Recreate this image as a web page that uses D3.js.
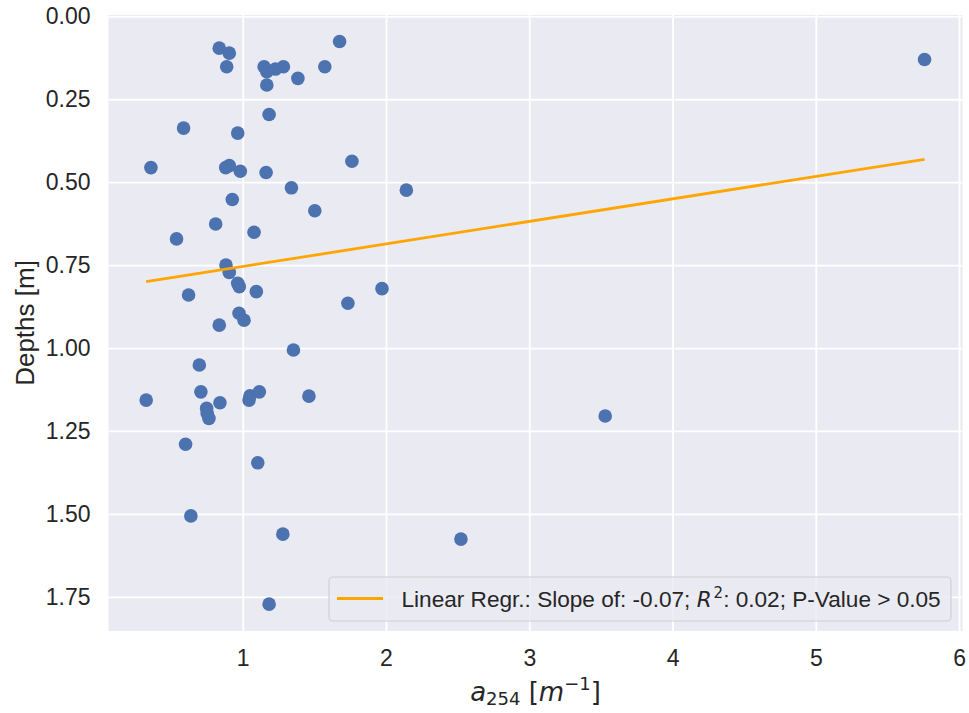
<!DOCTYPE html>
<html>
<head>
<meta charset="utf-8">
<script src="https://cdn.jsdelivr.net/npm/d3@7/dist/d3.min.js"></script>
<style>
  body { margin: 0; background: #fff; }
  svg { display: block; font-family: "Liberation Sans", Arial, sans-serif; }
</style>
</head>
<body>
<svg width="969" height="713"></svg>
<script>
// a254 absorbance [m^-1] per sample
const a254 = [
  0.836, 0.906, 0.888, 1.676, 1.149, 1.168, 1.228, 1.284, 1.168, 1.385,
  1.573, 5.759, 1.184, 0.587, 0.965, 0.359, 0.881, 0.906, 0.983, 1.163,
  1.762, 1.340, 2.142, 0.927, 1.503, 0.811, 1.079, 0.538, 0.883, 0.906,
  0.965, 0.976, 1.095, 0.622, 1.972, 1.734, 0.974, 1.009, 0.836, 1.354,
  0.697, 0.708, 0.326, 0.841, 0.748, 0.752, 0.764, 1.044, 1.051, 1.116,
  1.462, 3.530, 0.601, 1.105, 0.638, 1.280, 2.523, 1.184
];
// depths [m]
const depths = [
  0.096, 0.111, 0.152, 0.076, 0.152, 0.167, 0.159, 0.152, 0.207, 0.187,
  0.152, 0.130, 0.296, 0.337, 0.352, 0.456, 0.456, 0.450, 0.467, 0.471,
  0.437, 0.517, 0.524, 0.552, 0.586, 0.626, 0.651, 0.671, 0.750, 0.772,
  0.805, 0.815, 0.830, 0.840, 0.821, 0.865, 0.895, 0.916, 0.931, 1.006,
  1.051, 1.132, 1.157, 1.165, 1.182, 1.197, 1.212, 1.157, 1.144, 1.132,
  1.145, 1.205, 1.290, 1.346, 1.506, 1.561, 1.576, 1.772
];
const xTicks = [1, 2, 3, 4, 5, 6];
const yTicks = [0, 0.25, 0.5, 0.75, 1.0, 1.25, 1.5, 1.75];
// fitted line (depth = intercept + slope * a254)
const regSlope = -0.0679;
const regIntercept = 0.822;
const legendText = ["Linear Regr.: Slope of: -0.07; ", "R", "2", ": 0.02; P-Value > 0.05"];

const svg = d3.select("svg");
const margin = {top: 15, left: 108.5, right: 969 - 962.5, bottom: 713 - 631};
const width = +svg.attr("width");
const height = +svg.attr("height");

const x = d3.scaleLinear().domain([0.063, 6.024]).range([margin.left, width - margin.right]);
const y = d3.scaleLinear().domain([-0.004, 1.853]).range([margin.top, height - margin.bottom]);

// background
svg.append("rect")
  .attr("x", margin.left).attr("y", margin.top)
  .attr("width", x.range()[1] - x.range()[0])
  .attr("height", y.range()[1] - y.range()[0])
  .attr("fill", "#eaeaf2");

// grid + tick labels
svg.append("g")
  .attr("transform", `translate(0,${height - margin.bottom})`)
  .call(d3.axisBottom(x).tickValues(xTicks).tickSize(-(y.range()[1] - y.range()[0])).tickFormat(d3.format("d")).tickPadding(19))
  .call(g => g.select(".domain").remove())
  .call(g => g.selectAll(".tick line").attr("stroke", "#fff").attr("stroke-width", 1.8))
  .call(g => g.selectAll(".tick text").attr("fill", "#262626").style("font-size", "23px").attr("font-family", "Liberation Sans, Arial, sans-serif"));

svg.append("g")
  .attr("transform", `translate(${margin.left},0)`)
  .call(d3.axisLeft(y).tickValues(yTicks).tickSize(-(x.range()[1] - x.range()[0])).tickFormat(d3.format(".2f")).tickPadding(18))
  .call(g => g.select(".domain").remove())
  .call(g => g.selectAll(".tick line").attr("stroke", "#fff").attr("stroke-width", 1.8))
  .call(g => g.selectAll(".tick text").attr("fill", "#262626").style("font-size", "23px").attr("font-family", "Liberation Sans, Arial, sans-serif"));

// points
const pts = a254.map((v, i) => ({a: v, d: depths[i]}));
svg.append("g")
  .selectAll("circle")
  .data(pts)
  .join("circle")
  .attr("cx", d => x(d.a))
  .attr("cy", d => y(d.d))
  .attr("r", 6.8)
  .attr("fill", "#4c72b0");

// regression line
const xmin = d3.min(a254), xmax = d3.max(a254);
svg.append("line")
  .attr("x1", x(xmin)).attr("y1", y(regIntercept + regSlope * xmin))
  .attr("x2", x(xmax)).attr("y2", y(regIntercept + regSlope * xmax))
  .attr("stroke", "#ffa500")
  .attr("stroke-width", 2.8);

// legend
const leg = svg.append("g");
leg.append("rect")
  .attr("x", 329).attr("y", 577).attr("width", 622).attr("height", 44)
  .attr("rx", 4)
  .attr("fill", "#eaeaf2").attr("fill-opacity", 0.8)
  .attr("stroke", "#d0d0d0").attr("stroke-width", 1.2);
leg.append("line")
  .attr("x1", 337).attr("x2", 383).attr("y1", 598.5).attr("y2", 598.5)
  .attr("stroke", "#ffa500").attr("stroke-width", 2.8);
const lt = leg.append("text")
  .attr("x", 401.5).attr("y", 607)
  .attr("fill", "#262626")
  .style("font-size", "22.6px");
lt.append("tspan").text(legendText[0]);
lt.append("tspan").attr("font-family", "DejaVu Sans").attr("font-style", "italic").attr("font-size", "21.5px").text(legendText[1]);
lt.append("tspan").attr("font-family", "DejaVu Sans").attr("font-size", "15px").attr("dy", -9).attr("dx", 2).text(legendText[2]);
lt.append("tspan").attr("dy", 9).text(legendText[3]);

// axis labels
svg.append("text")
  .attr("transform", `translate(33.5,${(y.range()[0] + y.range()[1]) / 2}) rotate(-90)`)
  .attr("text-anchor", "middle")
  .attr("fill", "#262626")
  .style("font-size", "26px")
  .text("Depths [m]");

const xl = svg.append("text")
  .attr("x", (x.range()[0] + x.range()[1]) / 2)
  .attr("y", 701)
  .attr("text-anchor", "middle")
  .attr("fill", "#262626")
  .attr("font-family", "DejaVu Sans")
  .style("font-size", "26px");
xl.append("tspan").attr("font-style", "italic").text("a");
xl.append("tspan").attr("font-size", "18px").attr("dy", 4).text("254");
xl.append("tspan").attr("dy", -4).text(" [");
xl.append("tspan").attr("font-style", "italic").text("m");
xl.append("tspan").attr("font-size", "18px").attr("dy", -11).text("−1");
xl.append("tspan").attr("dy", 11).text("]");
</script>
</body>
</html>
